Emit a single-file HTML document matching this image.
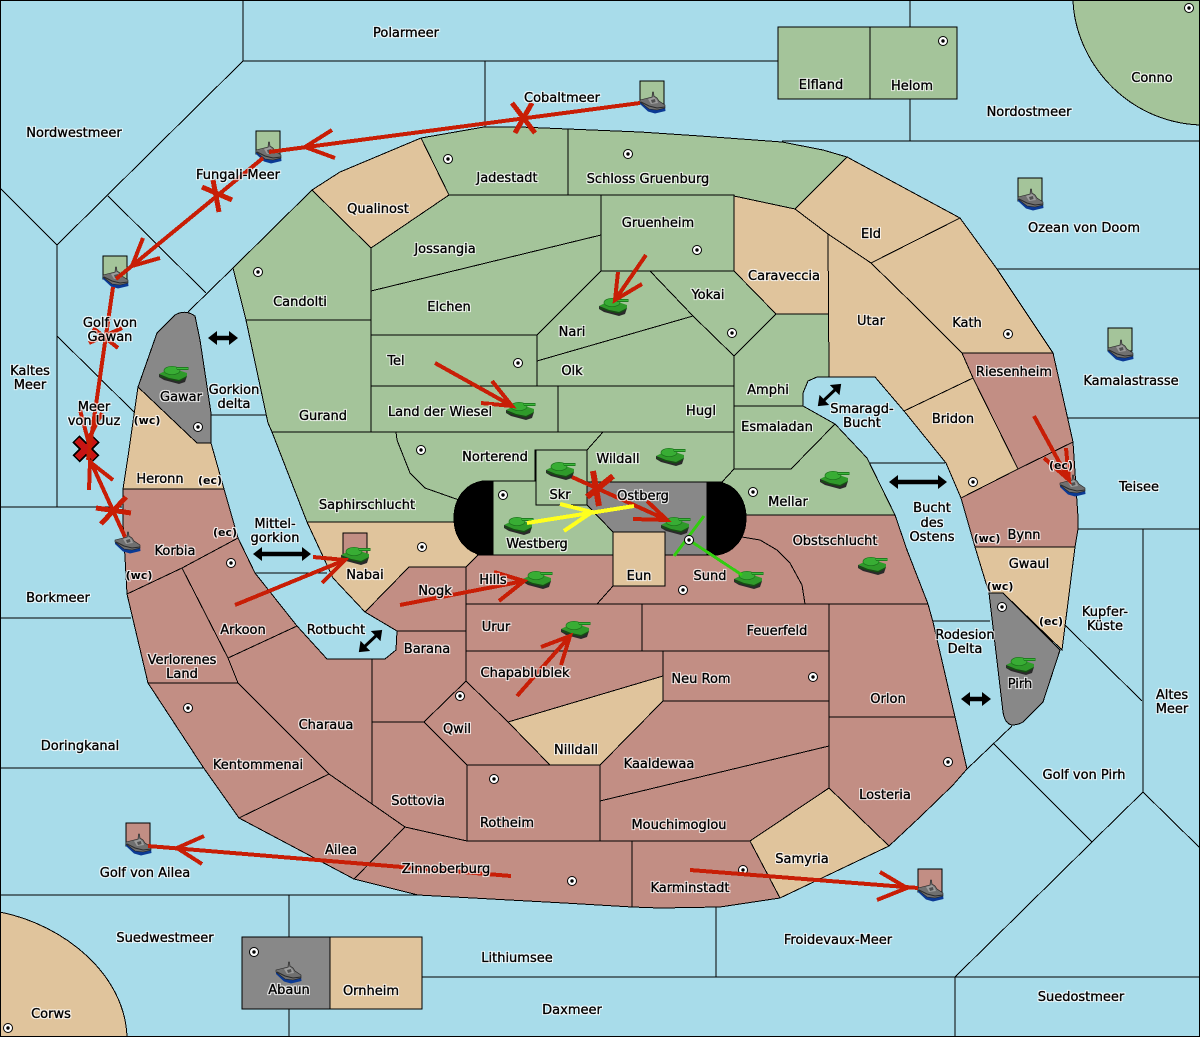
<!DOCTYPE html>
<html><head><meta charset="utf-8"><title>Map</title>
<style>
html,body{margin:0;padding:0;background:#a8dcea}
svg{display:block}
.l polygon,.l path{stroke:#000;stroke-width:1;shape-rendering:crispEdges;stroke-linejoin:miter}
.g{fill:#a4c49a}.t{fill:#e0c49c}.r{fill:#c28e84}.y{fill:#888888}
text{font-family:"DejaVu Sans","Liberation Sans",sans-serif;font-size:13px;fill:#000;text-anchor:middle;stroke:#000;stroke-width:.35px}
text.s{font-size:11px;font-weight:bold;stroke-width:0}
.a line,.a path{stroke:#c81e06;fill:none;stroke-width:4;stroke-linecap:butt}
</style></head><body>
<svg width="1200" height="1037" viewBox="0 0 1200 1037" xmlns="http://www.w3.org/2000/svg">
<defs>
<filter id="halo" filterUnits="userSpaceOnUse" x="0" y="0" width="1200" height="1037" color-interpolation-filters="sRGB">
<feMorphology in="SourceAlpha" operator="dilate" radius="1" result="m"/>
<feFlood flood-color="#fff" flood-opacity=".8"/>
<feComposite in2="m" operator="in" result="w"/>
<feMerge><feMergeNode in="w"/><feMergeNode in="SourceGraphic"/></feMerge>
</filter>
<marker id="h" markerUnits="userSpaceOnUse" markerWidth="10" markerHeight="14" refX="6" refY="7" orient="auto-start-reverse"><path d="M0 0 L9 7 L0 14Z" fill="#000"/></marker>
<symbol id="tank" width="30" height="18" viewBox="0 0 30 18" overflow="visible">
<path d="M0 8 L0 11 L5 14 L20 18 L26 16 L28 10 Z" fill="#2a2a2a"/>
<path d="M0 8 L6 5 L22 5 L28 7 L28 10 L20 14 L10 12 Z" fill="#2f9a2a"/>
<ellipse cx="13" cy="4.5" rx="8" ry="4.2" fill="#38ad34" stroke="#1c701c" stroke-width=".7"/>
<path d="M17 1 H29.5 V4 H18 Z" fill="#1f7d1f"/>
<path d="M18 2 H29 V3 H18Z" fill="#3cb83c"/>
<path d="M1 10 L11 13 L20 15 L27 11" stroke="#0f5a0b" fill="none" stroke-width="1"/>
</symbol>
<symbol id="ship" width="26" height="22" viewBox="0 0 26 22" overflow="visible">
<path d="M0 9 L9 16 L17 17 L25 15 L25.5 19 L15 21.5 L8 19.5 L0 12Z" fill="#0b3a94"/>
<path d="M0 8 L8 6 L12 5 L12.5 0 L13.5 0 L14 4 L17 6 L19 9 L25 13 L25 16 L17 18 L9 17 L0 10Z" fill="#707070" stroke="#222" stroke-width=".6"/>
<path d="M8 7 L14 5 L17 8 L18 11 L11 12Z" fill="#9c9c9c"/>
<path d="M11 8 L15 7 L15.5 10 L12 11Z" fill="#505050"/>
<path d="M1 10 L9 14 L17 16 L25 15" stroke="#2b2b2b" fill="none" stroke-width="1"/>
</symbol>
<symbol id="d" width="11" height="11" viewBox="0 0 11 11" overflow="visible">
<circle cx="5.5" cy="5.5" r="4.5" fill="#fff" stroke="#000" stroke-width="1"/><circle cx="5.5" cy="5.5" r="1.7" fill="#000"/>
</symbol>
</defs>
<rect width="1200" height="1037" fill="#a8dcea"/>

<g fill="none" stroke="#000" stroke-width="1" shape-rendering="crispEdges">
<path d="M0 188 L57 245 L243 61 V0 M243 61 H778 M485 61 V127 M910 0 V27 M910 99 V141 M782 141 H1200 M108 196 L206 293 M233 268 L188 312 M57 245 V507 M0 507 H122 M57 336 L135 413 M0 618 H131 M0 768 H203 M0 895 H418 M289 895 V937 M289 1009 V1037 M422 977 H955 M716 905 V977 M955 977 V1037 M955 977 H1200 M955 977 L1092 842 L994 744 M1092 842 L1143 792 L1200 848 M1143 529 V792 M1065 625 L1142 701 M1078 529 H1200 M1068 418 H1200 M997 269 H1200 M1012 726 L967 769 M211 415 H266 M255 573 H327 M870 463 H945 M933 621 H990"/>
</g>

<g class="l">
<path class="g" d="M1073 0 C1075 60 1125 122 1200 125 V0Z"/>
<path class="t" d="M0 912 C65 925 125 975 127 1037 H0Z"/>
<polygon class="g" points="778,27 870,27 870,99 778,99"/>
<polygon class="g" points="870,27 957,27 957,99 870,99"/>
<polygon class="y" points="242,937 330,937 330,1009 242,1009"/>
<polygon class="t" points="330,937 422,937 422,1009 330,1009"/>
<polygon class="t" points="312,190 340,172 421,138 449,195 371,248"/>
<polygon class="g" points="421,138 484,127 520,127 568,129 568,195 449,195"/>
<polygon class="g" points="568,129 640,132 700,136 782,142 823,150 847,157 795,209 734,196 568,195"/>
<polygon class="g" points="233,268 312,190 371,248 371,320 246,320"/>
<polygon class="g" points="246,320 371,320 371,432 272,432 268,423"/>
<polygon class="g" points="371,248 449,195 601,195 601,235 371,291"/>
<polygon class="g" points="371,291 601,235 601,271 537,335 371,335"/>
<polygon class="g" points="601,195 734,195 734,271 601,271"/>
<polygon class="g" points="601,271 650,271 693,316 537,361 537,335"/>
<polygon class="g" points="650,271 734,271 776,314 734,356 693,316"/>
<polygon class="g" points="537,361 693,316 734,356 734,386 537,386"/>
<polygon class="g" points="371,335 537,335 537,386 371,386"/>
<polygon class="g" points="371,386 558,386 558,432 371,432"/>
<polygon class="g" points="558,386 734,386 734,432 558,432"/>
<polygon class="g" points="734,356 776,314 829,314 829,377 817,377 808,381 803,393 803,406 734,406"/>
<polygon class="t" points="734,196 795,209 828,234 829,314 776,314 734,271"/>
<polygon class="t" points="795,209 847,157 960,218 871,263 828,234"/>
<polygon class="t" points="828,234 871,263 916,307 962,353 973,378 904,411 875,377 829,377"/>
<polygon class="t" points="871,263 960,218 997,269 1053,353 962,353 916,307"/>
<polygon class="r" points="962,353 1053,353 1073,442 1018,469 973,378"/>
<polygon class="t" points="973,378 1018,469 961,498 946,463 904,411"/>
<polygon class="r" points="961,498 1018,469 1073,442 1078,517 1078,529 1075,547 975,547"/>
<polygon class="t" points="975,547 1075,547 1062,650 1003,593 989,593"/>
<path class="y" d="M989 593 H1003 L1060 650 L1043 702 L1023 722 Q1018 725 1012 725 Q1005 724 1003 712 L989 593Z"/>
<polygon class="g" points="272,432 396,432 397,440 410,473 425,488 459,500 454,518 456,522 307,522"/>
<polygon class="g" points="396,432 603,432 587,450 535,450 535,481 485,481 459,500 425,488 410,473 397,440"/>
<polygon class="g" points="603,432 734,432 734,469 722,482 587,482 587,450"/>
<polygon class="g" points="734,406 803,406 835,424 791,469 734,469"/>
<polygon class="g" points="791,469 734,469 722,482 735,495 745,515 895,515 867,458 835,424"/>
<polygon class="r" points="745,515 895,515 907,550 928,604 805,604 802,585 790,563 777,550 760,540 742,537"/>
<polygon class="r" points="665,555 707,555 730,530 742,537 760,540 777,550 790,563 802,585 805,604 597,604 613,586 665,586"/>
<polygon class="t" points="307,522 456,522 460,540 478,555 466,567 409,567 365,612 333,578"/>
<polygon class="r" points="478,555 613,555 613,586 597,604 466,604 466,567"/>
<polygon class="r" points="409,567 466,567 466,631 397,631 365,612"/>
<polygon class="g" points="493,481 536,481 536,505 587,505 613,532 613,555 493,555"/>
<polygon class="y" points="587,482 707,482 707,555 665,555 665,532 613,532 587,505"/>
<path d="M493 481 H483 C464 484 454 500 454 518 C454 536 464 552 483 555 H493Z" fill="#000"/>
<path d="M707 482 H717 C736 484 746 500 746 518 C746 536 736 552 717 555 H707Z" fill="#000"/>
<polygon class="g" points="536,450 587,450 587,505 536,505"/>
<polygon class="t" points="613,532 665,532 665,586 613,586"/>
<polygon class="r" points="466,604 642,604 642,651 466,651"/>
<polygon class="r" points="642,604 829,604 829,651 642,651"/>
<polygon class="r" points="829,604 928,604 933,622 955,717 829,717"/>
<polygon class="r" points="829,717 955,717 967,769 953,785 920,817 889,846 829,788"/>
<polygon class="r" points="663,651 829,651 829,701 663,701"/>
<polygon class="r" points="466,651 663,651 663,676 508,722 466,681"/>
<polygon class="t" points="508,722 663,676 663,701 600,765 550,765"/>
<polygon class="r" points="663,701 829,701 829,746 600,801 600,765"/>
<polygon class="r" points="600,801 829,746 829,788 750,841 600,841"/>
<polygon class="t" points="829,788 889,846 780,898 750,841"/>
<polygon class="r" points="397,631 466,631 466,681 424,722 372,722 372,659 385,659 396,650"/>
<polygon class="r" points="466,681 508,722 550,765 467,765 424,722"/>
<polygon class="r" points="372,722 424,722 467,765 467,841 405,827 372,804"/>
<polygon class="r" points="467,765 600,765 600,841 467,841"/>
<polygon class="r" points="405,827 467,841 632,841 632,907 564,903 418,895 354,879"/>
<polygon class="r" points="632,841 750,841 780,898 720,907 660,908 632,907"/>
<polygon class="r" points="329,774 372,804 405,827 354,879 239,818"/>
<polygon class="r" points="228,658 297,626 327,659 372,659 372,804 329,774 238,683"/>
<polygon class="r" points="148,683 238,683 329,774 239,818 203,767"/>
<polygon class="r" points="127,594 182,568 228,658 238,683 148,683"/>
<polygon class="r" points="182,568 238,538 255,573 297,626 228,658"/>
<polygon class="r" points="123,489 224,489 238,538 182,568 127,594 126,575 123,523"/>
<polygon class="t" points="138,387 197,443 211,443 224,489 123,489 129,450"/>
<path class="y" d="M138 387 L157 333 L175 315 Q185 309 195 316 L200 340 L211 413 V443 H197Z"/>
</g>

<g stroke="#000" shape-rendering="crispEdges">
<rect x="256" y="131" width="24" height="23" class="g"/>
<rect x="103" y="256" width="24" height="23" class="g"/>
<rect x="640" y="81" width="24" height="23" class="g"/>
<rect x="1018" y="178" width="24" height="23" class="g"/>
<rect x="1108" y="328" width="24" height="23" class="g"/>
<rect x="126" y="823" width="24" height="23" class="r"/>
<rect x="918" y="869" width="24" height="23" class="r"/>
<rect x="343" y="533" width="24" height="24" class="r"/>
</g>

<g stroke="#000" fill="none">
<g stroke-width="4.5">
<line x1="211" y1="338" x2="235" y2="338" marker-start="url(#h)" marker-end="url(#h)"/>
<line x1="892" y1="482" x2="944" y2="482" marker-start="url(#h)" marker-end="url(#h)"/>
<line x1="256" y1="554" x2="308" y2="554" marker-start="url(#h)" marker-end="url(#h)"/>
<line x1="964" y1="699" x2="988" y2="699" marker-start="url(#h)" marker-end="url(#h)"/>
</g>
<g stroke-width="3">
<line x1="820" y1="404" x2="839" y2="386" marker-start="url(#h)" marker-end="url(#h)"/>
<line x1="361" y1="650" x2="380" y2="632" marker-start="url(#h)" marker-end="url(#h)"/>
</g>
</g>

<g>
<use href="#d" x="252.5" y="266.5"/><use href="#d" x="192.5" y="421.5"/><use href="#d" x="442.5" y="153.5"/><use href="#d" x="622.5" y="148.5"/><use href="#d" x="691.5" y="244.5"/><use href="#d" x="726.5" y="327.5"/><use href="#d" x="512.5" y="357.5"/><use href="#d" x="415.5" y="444.5"/><use href="#d" x="1002.5" y="328.5"/><use href="#d" x="967.5" y="476.5"/><use href="#d" x="937.5" y="35.5"/><use href="#d" x="497.5" y="489.5"/><use href="#d" x="416.5" y="541.5"/><use href="#d" x="747.5" y="486.5"/><use href="#d" x="677.5" y="584.5"/><use href="#d" x="225.5" y="557.5"/><use href="#d" x="182.5" y="702.5"/><use href="#d" x="454.5" y="690.5"/><use href="#d" x="488.5" y="773.5"/><use href="#d" x="807.5" y="671.5"/><use href="#d" x="942.5" y="756.5"/><use href="#d" x="996.5" y="601.5"/><use href="#d" x="566.5" y="875.5"/><use href="#d" x="737.5" y="864.5"/><use href="#d" x="248.5" y="946.5"/><use href="#d" x="2.5" y="1022.5"/><use href="#d" x="1183.5" y="2.5"/>
</g>

<use href="#ship" x="256" y="142"/><use href="#ship" x="103" y="267"/><use href="#ship" x="640" y="92"/><use href="#ship" x="1018" y="189"/><use href="#ship" x="1108" y="340"/><use href="#ship" x="1060" y="475"/><use href="#ship" x="115" y="532"/><use href="#ship" x="126" y="834"/><use href="#ship" x="918" y="880"/><use href="#ship" x="276" y="962"/>
<use href="#tank" x="159" y="366"/><use href="#tank" x="599" y="298"/><use href="#tank" x="506" y="402"/><use href="#tank" x="656" y="448"/><use href="#tank" x="820" y="471"/><use href="#tank" x="546" y="462"/><use href="#tank" x="504" y="517"/><use href="#tank" x="661" y="517"/><use href="#tank" x="734" y="571"/><use href="#tank" x="523" y="571"/><use href="#tank" x="561" y="621"/><use href="#tank" x="341" y="547"/><use href="#tank" x="858" y="557"/><use href="#tank" x="1006" y="657"/>

<g class="a" shape-rendering="crispEdges">
<path d="M76 439 L96 459 M96 439 L76 459" style="stroke:#000;stroke-width:10"/>
<path d="M77 440 L95 458 M95 440 L77 458" style="stroke:#c81414;stroke-width:7"/>
<line x1="640" y1="103" x2="269" y2="152"/><path d="M332 130 L305 147 L335 158"/>
<path d="M515 133 L532 103 M535 133 L512 103" style="stroke-width:5"/>
<line x1="263" y1="158" x2="116" y2="279"/><path d="M143 238 L132 266 L160 258"/>
<path d="M202 187 L232 200 M213 180 L219 212" style="stroke-width:5"/>
<line x1="113" y1="287" x2="88" y2="460"/><path d="M80 410 L88 440 L102 413"/>
<path d="M93 328 L118 348 M122 328 L89 343"/>
<line x1="125" y1="537" x2="90" y2="460"/><path d="M89 490 L90 462 L113 480"/>
<path d="M96 508 L131 513 M126 497 L101 524" style="stroke-width:5"/>
<line x1="646" y1="255" x2="615" y2="300"/><path d="M618 272 L615 300 L642 284"/>
<line x1="435" y1="363" x2="512" y2="406"/><path d="M492 381 L512 406 L481 403"/>
<line x1="572" y1="477" x2="667" y2="520"/><path d="M647 501 L667 520 L633 519"/>
<path d="M593 471 L599 506 M613 476 L587 497" style="stroke-width:6"/>
<line x1="400" y1="605" x2="524" y2="581"/><path d="M494 572 L524 581 L499 601"/>
<line x1="517" y1="696" x2="570" y2="636"/><path d="M541 647 L570 636 L561 665"/>
<line x1="235" y1="605" x2="345" y2="560"/><path d="M313 557 L345 560 L322 583"/>
<line x1="511" y1="876" x2="148" y2="846"/><path d="M204 836 L177 848 L202 864"/>
<line x1="690" y1="870" x2="918" y2="888"/><path d="M880 872 L907 888 L877 900"/>
<line x1="1034" y1="416" x2="1069" y2="480"/><path d="M1066 448 L1069 480 L1044 458"/>
<path d="M527 523 L634 506 M560 504 L592 512 L564 531" style="stroke:#ffff1e"/>
<path d="M742 575 L689 540 M704 516 L674 556" style="stroke:#33cc11;stroke-width:3"/>
</g>
<use href="#d" x="683.5" y="534.5"/>

<g filter="url(#halo)">
<text x="406" y="37">Polarmeer</text><text x="562" y="102">Cobaltmeer</text><text x="74" y="137">Nordwestmeer</text><text x="238" y="179">Fungali-Meer</text>
<text x="110" y="327">Golf von</text><text x="110" y="341">Gawan</text><text x="30" y="375">Kaltes</text><text x="30" y="389">Meer</text><text x="94" y="411">Meer</text><text x="94" y="425">von Uuz</text>
<text x="234" y="394">Gorkion</text><text x="234" y="408">delta</text><text x="300" y="306">Candolti</text><text x="323" y="420">Gurand</text><text x="378" y="213">Qualinost</text><text x="507" y="182">Jadestadt</text><text x="648" y="183">Schloss Gruenburg</text><text x="658" y="227">Gruenheim</text><text x="445" y="253">Jossangia</text><text x="449" y="311">Elchen</text><text x="572" y="336">Nari</text><text x="708" y="299">Yokai</text><text x="784" y="280">Caraveccia</text><text x="871" y="325">Utar</text><text x="871" y="238">Eld</text><text x="967" y="327">Kath</text><text x="1014" y="376">Riesenheim</text><text x="953" y="423">Bridon</text><text x="768" y="394">Amphi</text><text x="777" y="431">Esmaladan</text><text x="862" y="413">Smaragd-</text><text x="862" y="427">Bucht</text><text x="701" y="415">Hugl</text><text x="572" y="375">Olk</text><text x="396" y="365">Tel</text><text x="440" y="416">Land der Wiesel</text><text x="495" y="461">Norterend</text><text x="618" y="463">Wildall</text><text x="560" y="499">Skr</text><text x="643" y="500">Ostberg</text><text x="537" y="548">Westberg</text><text x="367" y="509">Saphirschlucht</text><text x="788" y="506">Mellar</text><text x="835" y="545">Obstschlucht</text>
<text x="932" y="512">Bucht</text><text x="932" y="527">des</text><text x="932" y="541">Ostens</text><text x="1024" y="539">Bynn</text><text class="s" x="987" y="542">(wc)</text><text class="s" x="1061" y="469">(ec)</text><text x="1139" y="491">Teisee</text><text x="1029" y="568">Gwaul</text><text class="s" x="1000" y="590">(wc)</text><text class="s" x="1051" y="625">(ec)</text><text x="1105" y="616">Kupfer-</text><text x="1105" y="630">Küste</text><text x="1172" y="699">Altes</text><text x="1172" y="713">Meer</text><text x="1084" y="232">Ozean von Doom</text><text x="1131" y="385">Kamalastrasse</text><text x="1029" y="116">Nordostmeer</text><text x="1152" y="82">Conno</text><text x="821" y="89">Elfland</text><text x="912" y="90">Helom</text>
<text x="160" y="483">Heronn</text><text class="s" x="210" y="484">(ec)</text><text class="s" x="147" y="424">(wc)</text><text x="175" y="555">Korbia</text><text class="s" x="225" y="536">(ec)</text><text class="s" x="139" y="579">(wc)</text><text x="58" y="602">Borkmeer</text><text x="182" y="664">Verlorenes</text><text x="182" y="678">Land</text><text x="243" y="634">Arkoon</text><text x="258" y="769">Kentommenai</text><text x="326" y="729">Charaua</text><text x="336" y="634">Rotbucht</text><text x="275" y="528">Mittel-</text><text x="275" y="542">gorkion</text><text x="365" y="579">Nabai</text><text x="435" y="595">Nogk</text><text x="493" y="584">Hills</text><text x="427" y="653">Barana</text><text x="496" y="631">Urur</text><text x="525" y="677">Chapablublek</text><text x="777" y="635">Feuerfeld</text><text x="701" y="683">Neu Rom</text><text x="457" y="733">Qwil</text><text x="576" y="754">Nilldall</text><text x="659" y="768">Kaaldewaa</text><text x="679" y="829">Mouchimoglou</text><text x="418" y="805">Sottovia</text><text x="507" y="827">Rotheim</text><text x="341" y="854">Ailea</text><text x="446" y="873">Zinnoberburg</text><text x="690" y="892">Karminstadt</text><text x="802" y="863">Samyria</text><text x="885" y="799">Losteria</text><text x="888" y="703">Orlon</text><text x="965" y="639">Rodesion</text><text x="965" y="653">Delta</text><text x="1020" y="688">Pirh</text><text x="1084" y="779">Golf von Pirh</text><text x="710" y="580">Sund</text><text x="639" y="580">Eun</text><text x="181" y="401">Gawar</text><text x="80" y="750">Doringkanal</text><text x="145" y="877">Golf von Ailea</text><text x="165" y="942">Suedwestmeer</text><text x="517" y="962">Lithiumsee</text><text x="838" y="944">Froidevaux-Meer</text><text x="572" y="1014">Daxmeer</text><text x="1081" y="1001">Suedostmeer</text><text x="289" y="994">Abaun</text><text x="371" y="995">Ornheim</text><text x="51" y="1018">Corws</text>
</g>
<rect x=".5" y=".5" width="1199" height="1036" fill="none" stroke="#000" shape-rendering="crispEdges"/>
</svg>
</body></html>
